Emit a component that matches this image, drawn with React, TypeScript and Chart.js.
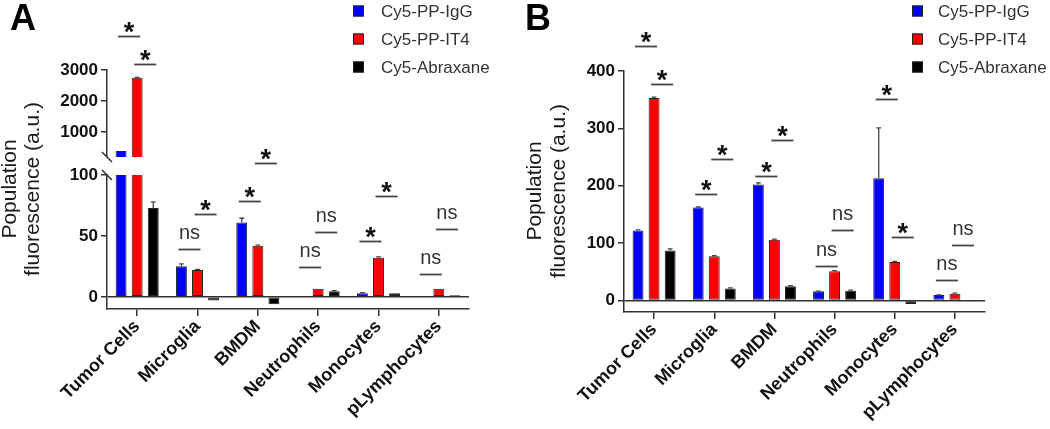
import React, { useEffect, useRef } from 'react';
import { Chart, registerables } from 'chart.js';

Chart.register(...registerables);

const FONT = "'Liberation Sans', Arial, Helvetica, sans-serif";
const AX = '#333333';

// ---------- shared ----------
const categories = ['Tumor Cells', 'Microglia', 'BMDM', 'Neutrophils', 'Monocytes', 'pLymphocytes'];
const seriesLabels = ['Cy5-PP-IgG', 'Cy5-PP-IT4', 'Cy5-Abraxane'];
const seriesColors = ['#0000ff', '#ff0000', '#000000'];
const yTitleLines = ['Population', 'fluorescence (a.u.)'];

// ---------- panel A (broken axis) ----------
const aIgG = [390, 25, 61, 0, 3, 0];
const aIT4 = [2750, 22, 42, 6.6, 32, 6.6];
const aAbrax = [73, -3, -6, 4.5, 3, 1.2];
const aIgGErr = [0, 2, 3.5, 0, 0.5, 0];
const aIT4Err = [12, 0.5, 0.5, 0, 0.8, 0];
const aAbraxErr = [5, 0, 0, 0.5, 0, 0];
const aTicksLow = [0, 50, 100];
const aTicksHigh = [1000, 2000, 3000];

// ---------- panel B ----------
const bIgG = [122, 162, 202, 16, 213, 9.5];
const bIT4 = [353, 77, 106, 51, 67, 12];
const bAbrax = [87, 21, 25, 17, -6, -1.5];
const bIgGErr = [1, 1, 3, 0.5, 88, 0.5];
const bIT4Err = [1.5, 1, 1, 1, 1, 1];
const bAbraxErr = [3, 1, 1, 1, 0, 0];
const bTicks = [0, 100, 200, 300, 400];

// ---------- significance marks: category, compared series, height (data units), label ----------
type Sig = { cat: number; from: number; to: number; y: number; label: string };
const aSigHigh: Sig[] = [
  { cat: 0, from: 0, to: 1, y: 4100, label: '*' },
  { cat: 0, from: 1, to: 2, y: 3190, label: '*' },
];
const aSigLow: Sig[] = [
  { cat: 1, from: 0, to: 1, y: 39, label: 'ns' },
  { cat: 1, from: 1, to: 2, y: 68, label: '*' },
  { cat: 2, from: 0, to: 1, y: 78.4, label: '*' },
  { cat: 2, from: 1, to: 2, y: 109.6, label: '*' },
  { cat: 3, from: 0, to: 1, y: 24.6, label: 'ns' },
  { cat: 3, from: 1, to: 2, y: 53.3, label: 'ns' },
  { cat: 4, from: 0, to: 1, y: 46.2, label: '*' },
  { cat: 4, from: 1, to: 2, y: 82.8, label: '*' },
  { cat: 5, from: 0, to: 1, y: 18.4, label: 'ns' },
  { cat: 5, from: 1, to: 2, y: 55.5, label: 'ns' },
];
const bSig: Sig[] = [
  { cat: 0, from: 0, to: 1, y: 444, label: '*' },
  { cat: 0, from: 1, to: 2, y: 377, label: '*' },
  { cat: 1, from: 0, to: 1, y: 186, label: '*' },
  { cat: 1, from: 1, to: 2, y: 247, label: '*' },
  { cat: 2, from: 0, to: 1, y: 217, label: '*' },
  { cat: 2, from: 1, to: 2, y: 280, label: '*' },
  { cat: 3, from: 0, to: 1, y: 61, label: 'ns' },
  { cat: 3, from: 1, to: 2, y: 123, label: 'ns' },
  { cat: 4, from: 0, to: 1, y: 351, label: '*' },
  { cat: 4, from: 1, to: 2, y: 111.5, label: '*' },
  { cat: 5, from: 0, to: 1, y: 36, label: 'ns' },
  { cat: 5, from: 1, to: 2, y: 97, label: 'ns' },
];

function makeDatasets(series: number[][]) {
  return series.map((d, i) => ({
    label: seriesLabels[i],
    data: d,
    backgroundColor: seriesColors[i],
    borderColor: '#222222',
    borderWidth: 1,
    borderSkipped: false,
    categoryPercentage: 0.8,
    barPercentage: 0.68,
    clip: 0,
  }));
}

function xAxis(display: boolean, height: number) {
  return {
    type: 'category',
    display,
    offset: true,
    grid: { display: true, drawOnChartArea: false, offset: false, tickLength: 7, tickColor: AX, tickWidth: 1.5, lineWidth: 1.5 },
    border: { display: true, color: AX, width: 1.5 },
    ticks: {
      autoSkip: false,
      minRotation: 45,
      maxRotation: 45,
      padding: 0,
      color: '#111111',
      font: { family: FONT, size: 18, weight: 'bold' },
    },
    afterFit: (s: any) => {
      s.height = height;
    },
  };
}

function yAxis(min: number, max: number, ticks: number[], width: number, zeroLine: boolean) {
  return {
    type: 'linear',
    min,
    max,
    afterBuildTicks: (s: any) => {
      s.ticks = ticks.map((v) => ({ value: v }));
    },
    afterFit: (s: any) => {
      s.width = width;
    },
    grid: {
      display: true,
      drawOnChartArea: zeroLine,
      color: (c: any) => (c.tick && c.tick.value === 0 ? AX : 'rgba(0,0,0,0)'),
      tickColor: AX,
      tickLength: 6,
      lineWidth: 1.5,
      tickWidth: 1.5,
    },
    border: { display: true, color: AX, width: 1.5 },
    ticks: {
      padding: 3,
      color: '#111111',
      font: { family: FONT, size: 17, weight: 'bold' },
      callback: (v: any) => String(v),
    },
  };
}

function errorBarPlugin(errors: number[][]) {
  return {
    id: 'errbars',
    afterDatasetsDraw(chart: any) {
      const { ctx } = chart;
      const ys = chart.scales.y;
      ctx.save();
      ctx.strokeStyle = '#444444';
      ctx.lineWidth = 1.3;
      errors.forEach((errs, di) => {
        const meta = chart.getDatasetMeta(di);
        const vals = chart.data.datasets[di].data as number[];
        meta.data.forEach((el: any, j: number) => {
          const v = vals[j];
          const e = errs[j];
          if (!e || v < 0) return;
          if (v + e > ys.max || v < ys.min) return;
          const y0 = ys.getPixelForValue(v);
          const y1 = ys.getPixelForValue(v + e);
          const half = el.width * 0.22;
          ctx.beginPath();
          ctx.moveTo(el.x, y0);
          ctx.lineTo(el.x, y1);
          ctx.moveTo(el.x - half, y1);
          ctx.lineTo(el.x + half, y1);
          ctx.stroke();
        });
      });
      ctx.restore();
    },
  };
}

function sigPlugin(sigs: Sig[]) {
  return {
    id: 'sig',
    afterDatasetsDraw(chart: any) {
      const { ctx } = chart;
      const ys = chart.scales.y;
      ctx.save();
      sigs.forEach((s) => {
        const a = chart.getDatasetMeta(s.from).data[s.cat];
        const b = chart.getDatasetMeta(s.to).data[s.cat];
        const mid = (a.x + b.x) / 2;
        const half = (b.x - a.x) / 2 + 3;
        const py = Math.round(ys.getPixelForValue(s.y)) + 0.5;
        ctx.strokeStyle = '#444444';
        ctx.lineWidth = 1.8;
        ctx.beginPath();
        ctx.moveTo(mid - half, py);
        ctx.lineTo(mid + half, py);
        ctx.stroke();
        ctx.textAlign = 'center';
        ctx.textBaseline = 'alphabetic';
        if (s.label === '*') {
          ctx.fillStyle = '#111111';
          ctx.font = `bold 27px ${FONT}`;
          ctx.fillText(s.label, mid, py + 4);
        } else {
          ctx.fillStyle = '#333333';
          ctx.font = `20px ${FONT}`;
          ctx.fillText(s.label, mid, py - 11);
        }
      });
      ctx.restore();
    },
  };
}

type DecorOpts = {
  letter: string;
  letterX: number;
  titleXs: number[];
  titleCY: number;
  boxX: number;
  textX: number;
  breakTop?: boolean;
};

function decorPlugin(o: DecorOpts) {
  return {
    id: 'decor',
    afterDraw(chart: any) {
      const { ctx, chartArea } = chart;
      ctx.save();
      // panel letter
      ctx.fillStyle = '#000000';
      ctx.font = `bold 36px ${FONT}`;
      ctx.textAlign = 'left';
      ctx.textBaseline = 'alphabetic';
      ctx.fillText(o.letter, o.letterX, 30);
      // y title
      ctx.fillStyle = '#1a1a1a';
      ctx.font = `21px ${FONT}`;
      ctx.textAlign = 'center';
      ctx.textBaseline = 'middle';
      yTitleLines.forEach((t, i) => {
        ctx.save();
        ctx.translate(o.titleXs[i], o.titleCY);
        ctx.rotate(-Math.PI / 2);
        ctx.fillText(t, 0, 0);
        ctx.restore();
      });
      // legend
      chart.data.datasets.forEach((ds: any, i: number) => {
        const cy = 11 + i * 28;
        ctx.fillStyle = ds.backgroundColor;
        ctx.fillRect(o.boxX, cy - 5.5, 11, 11);
        ctx.strokeStyle = '#222222';
        ctx.lineWidth = 1;
        ctx.strokeRect(o.boxX + 0.5, cy - 5, 10, 10);
        ctx.fillStyle = '#333333';
        ctx.font = `17px ${FONT}`;
        ctx.textAlign = 'left';
        ctx.textBaseline = 'middle';
        ctx.fillText(ds.label, o.textX, cy + 1);
      });
      // axis break mark (lower segment top)
      if (o.breakTop) {
        ctx.strokeStyle = AX;
        ctx.lineWidth = 1.5;
        ctx.beginPath();
        ctx.moveTo(chartArea.left - 5, chartArea.top - 5);
        ctx.lineTo(chartArea.left + 5, chartArea.top + 5);
        ctx.stroke();
      }
      ctx.restore();
    },
  };
}

const breakBottomPlugin = {
  id: 'breakBottom',
  afterDraw(chart: any) {
    const { ctx, chartArea } = chart;
    ctx.save();
    ctx.strokeStyle = AX;
    ctx.lineWidth = 1.5;
    ctx.beginPath();
    ctx.moveTo(chartArea.left - 5, chartArea.bottom - 5);
    ctx.lineTo(chartArea.left + 5, chartArea.bottom + 5);
    ctx.stroke();
    ctx.restore();
  },
};

const baseOptions = {
  responsive: false,
  animation: false,
  events: [],
  plugins: { legend: { display: false }, tooltip: { enabled: false }, title: { display: false } },
};

export default function App() {
  const aTopRef = useRef<HTMLCanvasElement>(null);
  const aBotRef = useRef<HTMLCanvasElement>(null);
  const bRef = useRef<HTMLCanvasElement>(null);

  useEffect(() => {
    const charts: Chart[] = [];
    const aSeries = [aIgG, aIT4, aAbrax];
    const aErr = [aIgGErr, aIT4Err, aAbraxErr];

    charts.push(
      new Chart(aBotRef.current as HTMLCanvasElement, {
        type: 'bar',
        data: { labels: categories, datasets: makeDatasets(aSeries) as any },
        options: {
          ...baseOptions,
          layout: { padding: { top: 175, left: 0, right: 51, bottom: 0 } },
          scales: { x: xAxis(true, 120) as any, y: yAxis(-10, 100, aTicksLow, 107, true) as any },
        } as any,
        plugins: [
          errorBarPlugin(aErr),
          sigPlugin(aSigLow),
          decorPlugin({ letter: 'A', letterX: 10, titleXs: [10, 33], titleCY: 189, boxX: 353, textX: 381, breakTop: true }),
        ],
      })
    );

    charts.push(
      new Chart(aTopRef.current as HTMLCanvasElement, {
        type: 'bar',
        data: { labels: categories, datasets: makeDatasets(aSeries) as any },
        options: {
          ...baseOptions,
          layout: { padding: { top: 70, left: 0, right: 51, bottom: 272 } },
          scales: { x: xAxis(false, 0) as any, y: yAxis(200, 3000, aTicksHigh, 107, false) as any },
        } as any,
        plugins: [errorBarPlugin(aErr), sigPlugin(aSigHigh), breakBottomPlugin],
      })
    );

    charts.push(
      new Chart(bRef.current as HTMLCanvasElement, {
        type: 'bar',
        data: { labels: categories, datasets: makeDatasets([bIgG, bIT4, bAbrax]) as any },
        options: {
          ...baseOptions,
          layout: { padding: { top: 71, left: 0, right: 65, bottom: 0 } },
          scales: { x: xAxis(true, 117) as any, y: yAxis(-20, 400, bTicks, 104, true) as any },
        } as any,
        plugins: [
          errorBarPlugin([bIgGErr, bIT4Err, bAbraxErr]),
          sigPlugin(bSig),
          decorPlugin({ letter: 'B', letterX: 5, titleXs: [15, 39], titleCY: 191, boxX: 392, textX: 418 }),
        ],
      })
    );

    return () => charts.forEach((c) => c.destroy());
  }, []);

  return (
    <div style={{ position: 'absolute', left: 0, top: 0, width: 1050, height: 429, background: '#ffffff' }}>
      <canvas ref={aBotRef} width={520} height={429} style={{ position: 'absolute', left: 0, top: 0 }} />
      <canvas ref={aTopRef} width={520} height={429} style={{ position: 'absolute', left: 0, top: 0 }} />
      <canvas ref={bRef} width={530} height={429} style={{ position: 'absolute', left: 520, top: 0 }} />
    </div>
  );
}
